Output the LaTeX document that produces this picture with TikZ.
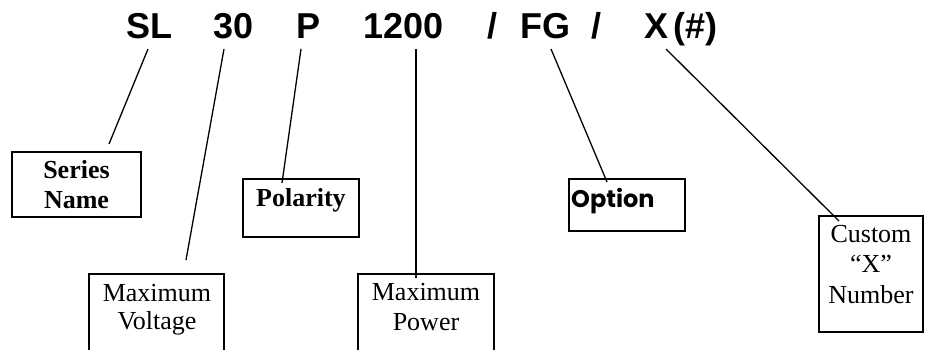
\documentclass[tikz,border=0pt]{standalone}
\usepackage{fontspec}
\setmainfont{Liberation Serif}
\newfontfamily\hdrfont{Liberation Sans}
\newfontfamily\optfont{Poppins}
\begin{document}
\begin{tikzpicture}[x=1pt,y=-1pt,
  hdr/.style={anchor=base west,inner sep=0pt,font=\hdrfont\bfseries\fontsize{36}{36}\selectfont},
  lbl/.style={anchor=base,inner sep=0pt,font=\fontsize{26}{26}\selectfont},
  lblb/.style={lbl,font=\bfseries\fontsize{26}{26}\selectfont},
  boxline/.style={draw=black,line width=1.6pt},
  conn/.style={draw=black,line width=1.3pt}]
\useasboundingbox (0,0) rectangle (925,350);
\clip (0,0) rectangle (925,350);
% header
\node[hdr] (sl) at (126,39) {SL};
\node[hdr] (v30) at (213,39) {30};
\node[hdr] (pp) at (296,39) {P};
\node[hdr] (n1200) at (363,39) {1200};
\node[hdr] (slashA) at (487,39) {/};
\node[hdr] (fg) at (520,39) {FG};
\node[hdr] (slashB) at (591,39) {/};
\node[hdr] (xx) at (644,39) {X};
\node[hdr] (hash) at (673,39) {(\#)};
% boxes
\path[boxline] (12,152) rectangle (141,217);
\path[boxline] (89,274) rectangle (224,365);
\path[boxline] (243,179) rectangle (359,237);
\path[boxline] (358,274) rectangle (494,365);
\path[boxline] (569,179) rectangle (685,231);
\path[boxline] (819,216) rectangle (923,332);
% box texts
\node[lblb] (sn1) at (76.5,178) {Series};
\node[lblb] (sn2) at (76.5,208) {Name};
\node[lbl] (mv1) at (157,301) {Maximum};
\node[lbl] (mv2) at (157,329) {Voltage};
\node[lblb,anchor=base west] (pol) at (256,206) {Polarity};
\node[lbl] (mp1) at (426,300) {Maximum};
\node[lbl] (mp2) at (426,330) {Power};
\node[anchor=base west,inner sep=0pt,font=\optfont\bfseries\fontsize{24}{24}\selectfont] (opt) at (571,207) {Option};
\node[lbl] (cu1) at (871,242) {Custom};
\node[lbl] (cu2) at (871,272) {“X”};
\node[lbl] (cu3) at (871,303) {Number};
% connector end points
\coordinate (a1) at (148,49); \coordinate (a2) at (109,144);
\coordinate (b1) at (224,49); \coordinate (b2) at (186,260);
\coordinate (c1) at (301,49); \coordinate (c2) at (282,183);
\coordinate (d1) at (416,49); \coordinate (d2) at (416,278);
\coordinate (e1) at (551,49); \coordinate (e2) at (607,182);
\coordinate (f1) at (666,49); \coordinate (f2) at (839,221);
\draw[conn] (a1) -- (a2);
\draw[conn] (b1) -- (b2);
\draw[conn] (c1) -- (c2);
\draw[conn] (d1) -- (d2);
\draw[conn] (e1) -- (e2);
\draw[conn] (f1) -- (f2);
\end{tikzpicture}
\end{document}
